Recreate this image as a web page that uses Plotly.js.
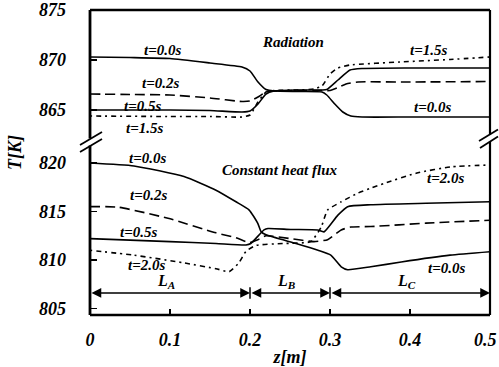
<!DOCTYPE html>
<html>
<head>
<meta charset="utf-8">
<script src="https://cdn.plot.ly/plotly-3.0.1.min.js"></script>
<style>html,body{margin:0;padding:0;background:#fff;}#chart{width:499px;height:367px;}</style>
</head>
<body>
<div id="chart"></div>
<script>
// ---- Radiation case (upper panel) ----
const zRad00 = [0, 0.05, 0.1, 0.15, 0.19, 0.2, 0.21, 0.22, 0.23, 0.26, 0.29, 0.296, 0.306, 0.316, 0.326, 0.34, 0.4, 0.5];
const tRad00 = [870.3, 870.25, 870.15, 869.7, 869.3, 868.9, 867.8, 867.05, 866.9, 866.85, 866.8, 866.5, 865.6, 864.8, 864.4, 864.3, 864.3, 864.3];
const zRad02 = [0, 0.05, 0.1, 0.15, 0.19, 0.2, 0.21, 0.22, 0.23, 0.26, 0.29, 0.30, 0.31, 0.32, 0.335, 0.4, 0.5];
const tRad02 = [866.6, 866.55, 866.5, 866.2, 865.85, 865.9, 866.3, 866.8, 866.9, 866.95, 866.95, 866.95, 867.25, 867.6, 867.8, 867.8, 867.85];
const zRad05 = [0, 0.1, 0.15, 0.19, 0.2, 0.21, 0.22, 0.23, 0.26, 0.29, 0.296, 0.31, 0.325, 0.34, 0.4, 0.5];
const tRad05 = [865.0, 865.0, 864.95, 864.8, 864.9, 865.6, 866.6, 866.9, 867.0, 867.0, 867.05, 868.0, 869.0, 869.15, 869.2, 869.2];
const zRad15 = [0, 0.1, 0.15, 0.19, 0.2, 0.21, 0.22, 0.23, 0.26, 0.28, 0.29, 0.30, 0.31, 0.325, 0.3875, 0.45, 0.5];
const tRad15 = [864.4, 864.35, 864.35, 864.3, 864.5, 865.8, 866.8, 866.95, 867.0, 867.1, 867.4, 868.6, 869.2, 869.5, 869.8, 870.05, 870.3];

// ---- Constant heat flux case (lower panel) ----
const zHf00 = [0, 0.055, 0.1175, 0.1575, 0.1825, 0.199, 0.2096, 0.214, 0.22, 0.2575, 0.285, 0.301, 0.314, 0.322, 0.351, 0.389, 0.45, 0.5];
const tHf00 = [820.0, 819.7, 818.6, 817.2, 816.0, 815.15, 813.8, 812.9, 812.6, 811.7, 811.0, 810.5, 809.3, 809.0, 809.3, 809.8, 810.5, 810.85];
const zHf02 = [0, 0.035, 0.0975, 0.1575, 0.1825, 0.199, 0.21, 0.22, 0.251, 0.28, 0.297, 0.314, 0.326, 0.351, 0.42, 0.5];
const tHf02 = [815.5, 815.45, 814.3, 812.8, 812.3, 811.8, 812.1, 812.5, 812.2, 811.9, 812.1, 813.1, 813.4, 813.45, 813.8, 814.1];
const zHf05 = [0, 0.1, 0.1575, 0.195, 0.201, 0.2175, 0.2225, 0.251, 0.2846, 0.2925, 0.3096, 0.322, 0.351, 0.42, 0.5];
const tHf05 = [812.2, 811.9, 811.7, 811.55, 811.7, 813.1, 813.25, 813.15, 813.1, 812.9, 814.6, 815.5, 815.7, 815.85, 816.0];
const zHf20 = [0, 0.055, 0.1175, 0.1575, 0.174, 0.186, 0.195, 0.2075, 0.241, 0.276, 0.289, 0.297, 0.314, 0.335, 0.351, 0.3675, 0.41, 0.451, 0.5];
const tHf20 = [811.0, 810.5, 809.7, 809.1, 808.8, 809.7, 810.9, 811.5, 811.7, 811.9, 813.4, 815.15, 816.0, 816.9, 817.4, 817.9, 819.0, 819.6, 819.8];

// ---- ticks / labels ----
const xTicks = [0, 0.1, 0.2, 0.3, 0.4, 0.5];
const xTickText = ['0', '0.1', '0.2', '0.3', '0.4', ''];
const xLastTickText = '0.5';
const yTopTicks = [865, 870, 875];
const yBotTicks = [805, 810, 815, 820];
const sectionBounds = [0, 0.2, 0.3, 0.5];
const sectionNames = ['L<sub>A</sub>', 'L<sub>B</sub>', 'L<sub>C</sub>'];

const serif = 'Liberation Serif, Times New Roman, serif';
const tickFont = {family: serif, size: 18, color: '#000', weight: 'bold', style: 'italic'};
const labFont = {family: serif, size: 15, color: '#000', style: 'italic', weight: 'bold'};

const solid = 'solid', dashed = '10px,5px', dotted = '2px,4px,5px,4px';
function tr(z, t, dash, ax) {
  return {x: z, y: t, type: 'scatter', mode: 'lines', xaxis: 'x', yaxis: ax,
    line: {color: '#000', width: 1.6, dash: dash, shape: 'spline', smoothing: 0.5},
    hoverinfo: 'skip'};
}
const data = [
  tr(zRad00, tRad00, solid, 'y2'),
  tr(zRad02, tRad02, dashed, 'y2'),
  tr(zRad05, tRad05, solid, 'y2'),
  tr(zRad15, tRad15, dotted, 'y2'),
  tr(zHf00, tHf00, solid, 'y'),
  tr(zHf02, tHf02, dashed, 'y'),
  tr(zHf05, tHf05, solid, 'y'),
  tr(zHf20, tHf20, dotted, 'y')
];

const split = 0.5705;
function lab(text, x, y, yref) {
  return {text: text, x: x, y: y, xref: 'x', yref: yref, showarrow: false, font: labFont};
}
const annotations = [
  lab('t=0.0s', 0.09, 871.0, 'y2'),
  lab('t=0.2s', 0.0875, 867.7, 'y2'),
  lab('t=0.5s', 0.065, 865.4, 'y2'),
  lab('t=1.5s', 0.0675, 863.2, 'y2'),
  lab('Radiation', 0.254, 871.8, 'y2'),
  lab('t=1.5s', 0.4225, 871.0, 'y2'),
  lab('t=0.0s', 0.4275, 865.3, 'y2'),
  lab('t=0.0s', 0.072, 820.5, 'y'),
  lab('Constant heat flux', 0.2375, 819.3, 'y'),
  lab('t=0.2s', 0.0725, 816.7, 'y'),
  lab('t=0.5s', 0.061, 812.9, 'y'),
  lab('t=2.0s', 0.07, 809.5, 'y'),
  lab('t=2.0s', 0.444, 818.45, 'y'),
  lab('t=0.0s', 0.445, 809.2, 'y'),
  {text: 'T[K]', xref: 'paper', yref: 'paper', x: 0, y: 0.531, xshift: -75, xanchor: 'center', yanchor: 'middle',
   textangle: -90, showarrow: false, font: tickFont},
  {text: xLastTickText, xref: 'x', yref: 'paper', x: 0.5, y: 0, xanchor: 'right', yanchor: 'middle',
   xshift: 9, yshift: -25, showarrow: false, font: tickFont}
];
const arrowY = 806.6;
for (let i = 0; i < 3; i++) {
  const a = sectionBounds[i], b = sectionBounds[i + 1];
  annotations.push({text: '', x: b, y: arrowY, ax: a, ay: arrowY, xref: 'x', yref: 'y', axref: 'x', ayref: 'y',
    showarrow: true, arrowside: 'end+start', arrowhead: 2, arrowsize: 1.3, arrowwidth: 1.5,
    arrowcolor: '#000', standoff: 0, startstandoff: 0});
  annotations.push({text: sectionNames[i], x: (a + b) / 2 - 0.005, y: 807.8, xref: 'x', yref: 'y',
    showarrow: false, font: {family: serif, size: 16, color: '#000', style: 'italic', weight: 'bold'}});
}

const shapes = [];
function seg(x0, y0, x1, y1, w) {
  shapes.push({type: 'line', xref: 'paper', yref: 'paper', x0: x0, y0: y0, x1: x1, y1: y1,
    line: {color: '#000', width: w}});
}
// frame with breaks (paper coords; plot area 400 x 305 px)
const py = p => (315 - p) / 305;
seg(0, 0, 1, 0, 2.5);
seg(0, 1, 1, 1, 2.5);
seg(0, 0, 0, py(145.5), 2.8);
seg(0, py(138.5), 0, 1, 2.8);
seg(1, 0, 1, py(141.5), 2.2);
seg(1, py(134.5), 1, 1, 2.2);
// break marks
const px = p => (p - 90) / 400;
seg(px(80), py(145), px(102), py(132), 1.8);
seg(px(80), py(152), px(102), py(139), 1.8);
seg(px(479), py(141), px(498), py(129.5), 1.8);
seg(px(480), py(148), px(498), py(136.5), 1.8);
// section separators
[0.2, 0.3].forEach(v => {
  shapes.push({type: 'line', xref: 'x', yref: 'y', x0: v, x1: v, y0: 806.0, y1: 807.2,
    line: {color: '#000', width: 1.5}});
});

const layout = {
  width: 499, height: 367,
  margin: {l: 90, r: 9, t: 10, b: 52},
  paper_bgcolor: '#fff', plot_bgcolor: '#fff',
  showlegend: false,
  xaxis: {range: [0, 0.5], domain: [0, 1], anchor: 'y', showgrid: false, zeroline: false, showline: false,
    ticks: 'inside', ticklen: 6, tickwidth: 1.5, tickcolor: '#000',
    tickvals: xTicks, ticktext: xTickText, tickfont: tickFont, ticklabelstandoff: 12,
    title: {text: 'z[m]', font: tickFont, standoff: 2}},
  yaxis: {domain: [0, split], range: [804.33, 822.27], showgrid: false, zeroline: false, showline: false,
    ticks: 'inside', ticklen: 7, tickwidth: 1.8, tickcolor: '#000',
    tickvals: yBotTicks, tickfont: tickFont, ticklabelstandoff: 23},
  yaxis2: {domain: [split, 1], range: [861.9, 875], anchor: 'x', showgrid: false, zeroline: false, showline: false,
    ticks: 'inside', ticklen: 7, tickwidth: 1.8, tickcolor: '#000',
    tickvals: yTopTicks, tickfont: tickFont, ticklabelstandoff: 23},
  annotations: annotations,
  shapes: shapes
};
Plotly.newPlot('chart', data, layout, {staticPlot: true, displayModeBar: false});
</script>
</body>
</html>
